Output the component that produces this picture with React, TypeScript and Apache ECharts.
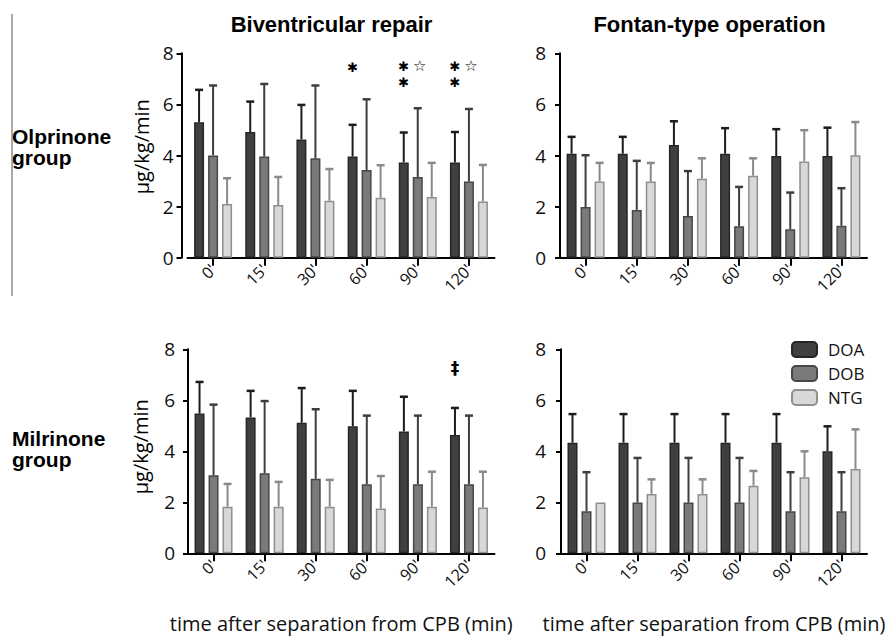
import React, { useEffect, useRef } from "react";
import * as echarts from "echarts";

const categories = ["0'", "15'", "30'", "60'", "90'", "120'"];
const drugNames = ["DOA", "DOB", "NTG"];
const yTicks = [0, 2, 4, 6, 8];

// Olprinone group – Biventricular repair (mean, and mean + SD)
const olpBivDOA = [5.3, 4.92, 4.63, 3.96, 3.73, 3.73];
const olpBivDOAUp = [6.57, 6.11, 5.98, 5.2, 4.9, 4.92];
const olpBivDOB = [4.0, 3.96, 3.89, 3.43, 3.16, 2.98];
const olpBivDOBUp = [6.74, 6.8, 6.74, 6.2, 5.85, 5.82];
const olpBivNTG = [2.1, 2.06, 2.23, 2.35, 2.38, 2.2];
const olpBivNTGUp = [3.11, 3.16, 3.47, 3.62, 3.71, 3.63];

// Olprinone group – Fontan-type operation
const olpFonDOA = [4.07, 4.07, 4.41, 4.07, 3.98, 3.98];
const olpFonDOAUp = [4.73, 4.73, 5.34, 5.07, 5.03, 5.09];
const olpFonDOB = [1.98, 1.87, 1.63, 1.23, 1.11, 1.25];
const olpFonDOBUp = [4.01, 3.79, 3.39, 2.77, 2.55, 2.72];
const olpFonNTG = [2.98, 2.98, 3.09, 3.21, 3.77, 4.01];
const olpFonNTGUp = [3.71, 3.71, 3.89, 3.89, 4.99, 5.31];

// Milrinone group – Biventricular repair
const milBivDOA = [5.48, 5.33, 5.12, 4.98, 4.78, 4.64];
const milBivDOAUp = [6.72, 6.37, 6.48, 6.37, 6.14, 5.7];
const milBivDOB = [3.06, 3.14, 2.92, 2.71, 2.71, 2.71];
const milBivDOBUp = [5.83, 5.97, 5.65, 5.4, 5.4, 5.4];
const milBivNTG = [1.83, 1.83, 1.83, 1.76, 1.83, 1.8];
const milBivNTGUp = [2.72, 2.8, 2.88, 3.03, 3.2, 3.2];

// Milrinone group – Fontan-type operation
const milFonDOA = [4.34, 4.34, 4.34, 4.34, 4.34, 4.0];
const milFonDOAUp = [5.46, 5.46, 5.46, 5.46, 5.46, 4.98];
const milFonDOB = [1.65, 1.99, 1.99, 1.99, 1.65, 1.65];
const milFonDOBUp = [3.18, 3.74, 3.74, 3.74, 3.18, 3.18];
const milFonNTG = [1.99, 2.33, 2.33, 2.65, 2.98, 3.31];
const milFonNTGUp = [1.99, 2.9, 2.9, 3.23, 4.0, 4.86];

// significance marks: [category, y value]
const olpBivAsterisks = [["60'", 7.44], ["90'", 7.47], ["90'", 6.87], ["120'", 7.47], ["120'", 6.87]];
const olpBivOpenStars = [["90'", 7.5], ["120'", 7.5]];
const milBivDaggers = [["120'", 7.27]];

const BAR_W = 10;
const BAR_GAP = 0.4;
const SLOT = BAR_W * (1 + BAR_GAP);

const fills = ["#404040", "#7a7a7a", "#d8d8d8"];
const borders = ["#262626", "#474747", "#8f8f8f"];
const whiskers = ["#1c1c1c", "#3e3e3e", "#8a8a8a"];

const AX_FONT = '"Open Sans", "DejaVu Sans", sans-serif';
const HEAD_FONT = '"Liberation Sans", Arial, sans-serif';

export default function App() {
  const ref = useRef<HTMLDivElement>(null);

  useEffect(() => {
    if (!ref.current) return;
    const chart = echarts.init(ref.current, undefined, { renderer: "svg" });

    const panels = [
      { grid: { left: 187.5, right: 395.5, top: 53.3, bottom: 378.3 }, yOffset: 6, labelMargin: 8, xName: "",
        means: [olpBivDOA, olpBivDOB, olpBivNTG], ups: [olpBivDOAUp, olpBivDOBUp, olpBivNTGUp] },
      { grid: { left: 560, right: 23, top: 53.3, bottom: 378.3 }, yOffset: 0, labelMargin: 14, xName: "",
        means: [olpFonDOA, olpFonDOB, olpFonNTG], ups: [olpFonDOAUp, olpFonDOBUp, olpFonNTGUp] },
      { grid: { left: 188, right: 395.5, top: 349.3, bottom: 82.7 }, yOffset: 0, labelMargin: 13,
        xName: "time after separation from CPB (min)",
        means: [milBivDOA, milBivDOB, milBivNTG], ups: [milBivDOAUp, milBivDOBUp, milBivNTGUp] },
      { grid: { left: 561, right: 23, top: 349.3, bottom: 82.7 }, yOffset: 0, labelMargin: 15,
        xName: "time after separation from CPB (min)",
        means: [milFonDOA, milFonDOB, milFonNTG], ups: [milFonDOAUp, milFonDOBUp, milFonNTGUp] },
    ];

    const grids = panels.map((p) => ({ ...p.grid, containLabel: false }));
    const xAxes = panels.map((p, i) => ({
      type: "category",
      gridIndex: i,
      data: categories,
      axisLine: { show: true, lineStyle: { color: "#000", width: 2 } },
      axisTick: { show: true, alignWithLabel: true, length: 8, lineStyle: { color: "#000", width: 2 } },
      axisLabel: { rotate: 45, fontSize: 16, fontFamily: AX_FONT, color: "#111", margin: 9 },
      name: p.xName,
      nameLocation: "middle",
      nameGap: 60,
      nameTextStyle: { fontSize: 20, fontFamily: AX_FONT, color: "#111" },
    }));
    const yAxes = panels.map((p, i) => ({
      type: "value",
      gridIndex: i,
      min: 0,
      max: 8,
      interval: 2,
      offset: p.yOffset,
      axisLine: { show: true, lineStyle: { color: "#000", width: 2 } },
      axisTick: { show: true, length: 5, lineStyle: { color: "#000", width: 2 } },
      axisLabel: { fontSize: 19, fontFamily: AX_FONT, color: "#111", margin: p.labelMargin,
        formatter: (v: number) => (yTicks.includes(v) ? String(v) : "") },
      splitLine: { show: false },
    }));

    const series: any[] = [];
    panels.forEach((p, pi) => {
      drugNames.forEach((name, k) => {
        const s: any = {
          type: "bar",
          name,
          xAxisIndex: pi,
          yAxisIndex: pi,
          data: p.means[k],
          barWidth: BAR_W,
          barGap: `${BAR_GAP * 100}%`,
          z: 3,
          itemStyle: { color: fills[k], borderColor: borders[k], borderWidth: 1.5 },
        };
        if (pi === 0 && k === 0) {
          s.markPoint = {
            symbol: "circle",
            symbolSize: 1,
            itemStyle: { color: "rgba(0,0,0,0)" },
            label: { show: true, position: "inside", fontSize: 13, fontFamily: '"DejaVu Sans"', color: "#000" },
            data: [
              ...olpBivAsterisks.map((a) => ({ coord: a, label: { formatter: "✱" } })),
              ...olpBivOpenStars.map((a) => ({ coord: a, label: { formatter: "☆", offset: [16, 0], fontSize: 15 } })),
            ],
          };
        }
        if (pi === 2 && k === 0) {
          s.markPoint = {
            symbol: "circle",
            symbolSize: 1,
            itemStyle: { color: "rgba(0,0,0,0)" },
            label: { show: true, position: "inside", fontSize: 17, fontWeight: "bold", fontFamily: '"DejaVu Sans"', color: "#000" },
            data: milBivDaggers.map((a) => ({ coord: a, label: { formatter: "‡" } })),
          };
        }
        series.push(s);
        const off = (k - 1) * SLOT;
        series.push({
          type: "custom",
          xAxisIndex: pi,
          yAxisIndex: pi,
          z: 2,
          silent: true,
          encode: { x: 0, y: 2 },
          data: p.means[k].map((m, i) => [i, m, p.ups[k][i]]),
          renderItem: (params: any, api: any) => {
            const i = api.value(0);
            const m = api.value(1);
            const u = api.value(2);
            if (u <= m) return { type: "group", children: [] };
            const lo = api.coord([i, m]);
            const hi = api.coord([i, u]);
            const x = lo[0] + off;
            return {
              type: "group",
              children: [
                { type: "line", shape: { x1: x, y1: lo[1], x2: x, y2: hi[1] }, style: { stroke: whiskers[k], lineWidth: 2 } },
                { type: "line", shape: { x1: x - 4, y1: hi[1], x2: x + 4, y2: hi[1] }, style: { stroke: whiskers[k], lineWidth: 2.5 } },
              ],
            };
          },
        });
      });
    });

    const txt = (text: string, x: number, y: number, font: string, extra: any = {}) => ({
      type: "text",
      x,
      y,
      ...extra,
      style: { text, font, fill: "#000", textAlign: "center", textVerticalAlign: "middle", align: "center", verticalAlign: "middle", ...(extra.style || {}) },
    });

    chart.setOption({
      animation: false,
      backgroundColor: "#fff",
      grid: grids,
      xAxis: xAxes,
      yAxis: yAxes,
      legend: {
        data: drugNames,
        orient: "vertical",
        left: 786,
        top: 336,
        itemWidth: 25,
        itemHeight: 15,
        itemGap: 7,
        textStyle: { fontSize: 17, fontFamily: AX_FONT, color: "#111", padding: [0, 0, 0, 6] },
        selectedMode: false,
      },
      series,
      graphic: [
        { type: "line", shape: { x1: 12, y1: 14, x2: 12, y2: 296 }, style: { stroke: "#555", lineWidth: 1 } },
        txt("Biventricular repair", 331.5, 24, `bold 22px ${HEAD_FONT}`),
        txt("Fontan-type operation", 709.5, 24, `bold 22px ${HEAD_FONT}`),
        { type: "text", x: 12, y: 126, style: { text: "Olprinone\ngroup", font: `bold 21px ${HEAD_FONT}`, lineHeight: 21, fill: "#000", textVerticalAlign: "top", verticalAlign: "top" } },
        { type: "text", x: 12, y: 428, style: { text: "Milrinone\ngroup", font: `bold 21px ${HEAD_FONT}`, lineHeight: 21, fill: "#000", textVerticalAlign: "top", verticalAlign: "top" } },
        txt("µg/kg/min", 141.5, 146.7, `20px ${AX_FONT}`, { rotation: Math.PI / 2 }),
        txt("µg/kg/min", 140.5, 446.7, `20px ${AX_FONT}`, { rotation: Math.PI / 2 }),
      ],
    });

    return () => chart.dispose();
  }, []);

  return (
    <div
      ref={ref}
      style={{ position: "absolute", left: 0, top: 0, width: 890, height: 636, background: "#fff" }}
    />
  );
}
